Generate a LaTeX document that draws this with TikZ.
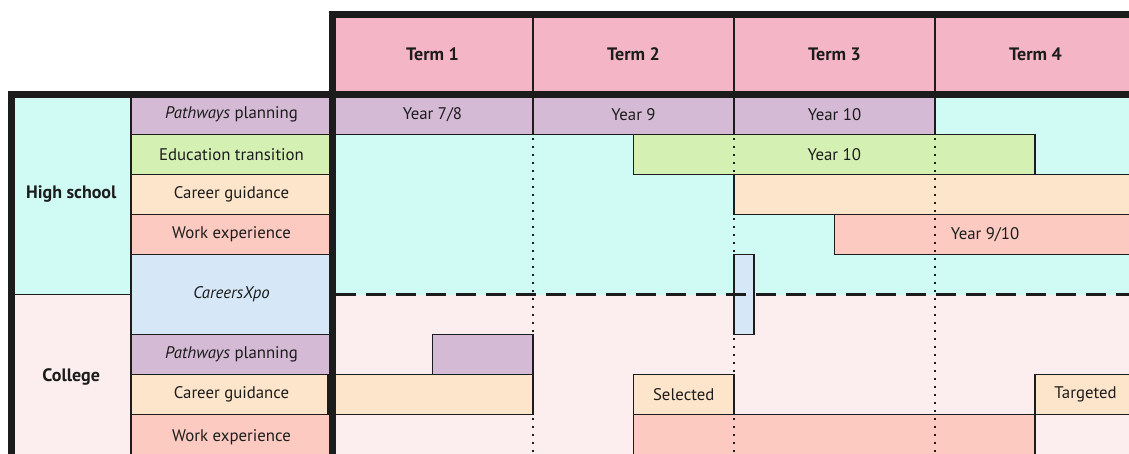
\documentclass[tikz,border=0pt]{standalone}
\usepackage{fontspec}
\setmainfont{PT Sans}
\definecolor{ink}{HTML}{1C1C1C}
\definecolor{termpink}{HTML}{F4B5C7}
\definecolor{purp}{HTML}{D4BAD4}
\definecolor{hsbg}{HTML}{D0FAF4}
\definecolor{colbg}{HTML}{FCEDEF}
\definecolor{grn}{HTML}{D4F0B2}
\definecolor{org}{HTML}{FDE5CB}
\definecolor{sal}{HTML}{FCCAC1}
\definecolor{blu}{HTML}{D6E8F7}
\newcommand\labfont{\fontsize{16.8}{20}\selectfont}
\newcommand\hdfont{\fontsize{18}{21}\selectfont\bfseries}
\begin{document}
\begin{tikzpicture}[x=1pt,y=-1pt,
  box/.style={draw=ink, line width=1.8pt, anchor=north west, inner sep=0pt, outer sep=0pt, font=\labfont, text=ink},
  hd/.style={font=\hdfont},
  plain/.style={inner sep=0pt, font=\labfont, text=ink},
  thick frame/.style={draw=ink, line width=7pt, line cap=rect},
  dotline/.style={draw=ink, line width=1.8pt, dash pattern=on 1.8pt off 6.2pt},
  dashline/.style={draw=ink, line width=2.6pt, dash pattern=on 20pt off 10pt}]
\useasboundingbox (0,0) rectangle (1129,453);
\clip (0,0) rectangle (1129,453);
% backgrounds
\fill[hsbg] (332,94.5) rectangle (1140,294.5);
\fill[colbg] (332,294.5) rectangle (1140,460);
% header
\node[box,hd,fill=termpink,minimum width=201,minimum height=80.5] (t1) at (332,14) {Term 1};
\node[box,hd,fill=termpink,minimum width=201,minimum height=80.5] (t2) at (533,14) {Term 2};
\node[box,hd,fill=termpink,minimum width=201,minimum height=80.5] (t3) at (734,14) {Term 3};
\node[box,hd,fill=termpink,minimum width=201,minimum height=80.5] (t4) at (935,14) {Term 4};
% categories
\node[box,hd,fill=hsbg,minimum width=119.5,minimum height=200] (hs) at (11.5,94.5) {High school};
\node[box,hd,fill=colbg,minimum width=119.5,minimum height=165] (col) at (11.5,294.5) {College};
% label column
\node[box,fill=purp,minimum width=201,minimum height=40] (lpp) at (131,94.5) {\textit{Pathways} planning};
\node[box,fill=grn,minimum width=201,minimum height=40] (let) at (131,134.5) {Education transition};
\node[box,fill=org,minimum width=201,minimum height=40] (lcg) at (131,174.5) {Career guidance};
\node[box,fill=sal,minimum width=201,minimum height=40] (lwe) at (131,214.5) {Work experience};
\node[box,fill=blu,minimum width=201,minimum height=80] (lcx) at (131,254.5) {\textit{CareersXpo}};
\node[box,fill=purp,minimum width=201,minimum height=40] (lcpp) at (131,334.5) {\textit{Pathways} planning};
\node[box,fill=org,minimum width=201,minimum height=40] (lccg) at (131,374.5) {Career guidance};
\node[box,fill=sal,minimum width=201,minimum height=45] (lcwe) at (131,414.5) {Work experience};
% high school bars
\node[box,fill=purp,minimum width=201,minimum height=40] (pp1) at (332,94.5) {Year 7/8};
\node[box,fill=purp,minimum width=201,minimum height=40] (pp2) at (533,94.5) {Year 9};
\node[box,fill=purp,minimum width=201,minimum height=40] (pp3) at (734,94.5) {Year 10};
\node[box,fill=grn,minimum width=401.5,minimum height=40] (et) at (633.5,134.5) {Year 10};
\node[box,fill=org,minimum width=420,minimum height=40] (cg) at (734,174.5) {};
\node[box,fill=sal,minimum width=320,minimum height=40] (we) at (834.5,214.5) {};
\node[plain] (wetext) at (985,234.5) {Year 9/10};
\node[box,fill=blu,minimum width=20,minimum height=80] (cx) at (734,254.5) {};
% college bars
\node[box,fill=purp,minimum width=100.5,minimum height=40] (cpp) at (432.5,334.5) {};
\node[box,fill=org,minimum width=205,minimum height=40] (ccg) at (328,374.5) {};
\node[box,fill=org,minimum width=100.5,minimum height=40] (sel) at (633.5,374.5) {Selected};
\node[box,fill=org,minimum width=101,minimum height=40] (tgt) at (1035,374.5) {Targeted};
\node[box,fill=sal,minimum width=401.5,minimum height=45] (cwe) at (633.5,414.5) {};
% term guide lines
\draw[dotline] (533,98) -- (533,460);
\draw[dotline] (734,98) -- (734,460);
\draw[dotline] (935,98) -- (935,460);
% split between school and college
\draw[dashline] (336,294.5) -- (1140,294.5);
% thick frame
\draw[thick frame] (332,460) -- (332,14) -- (1140,14);
\draw[thick frame] (11.5,460) -- (11.5,94.5) -- (1140,94.5);
\end{tikzpicture}
\end{document}
